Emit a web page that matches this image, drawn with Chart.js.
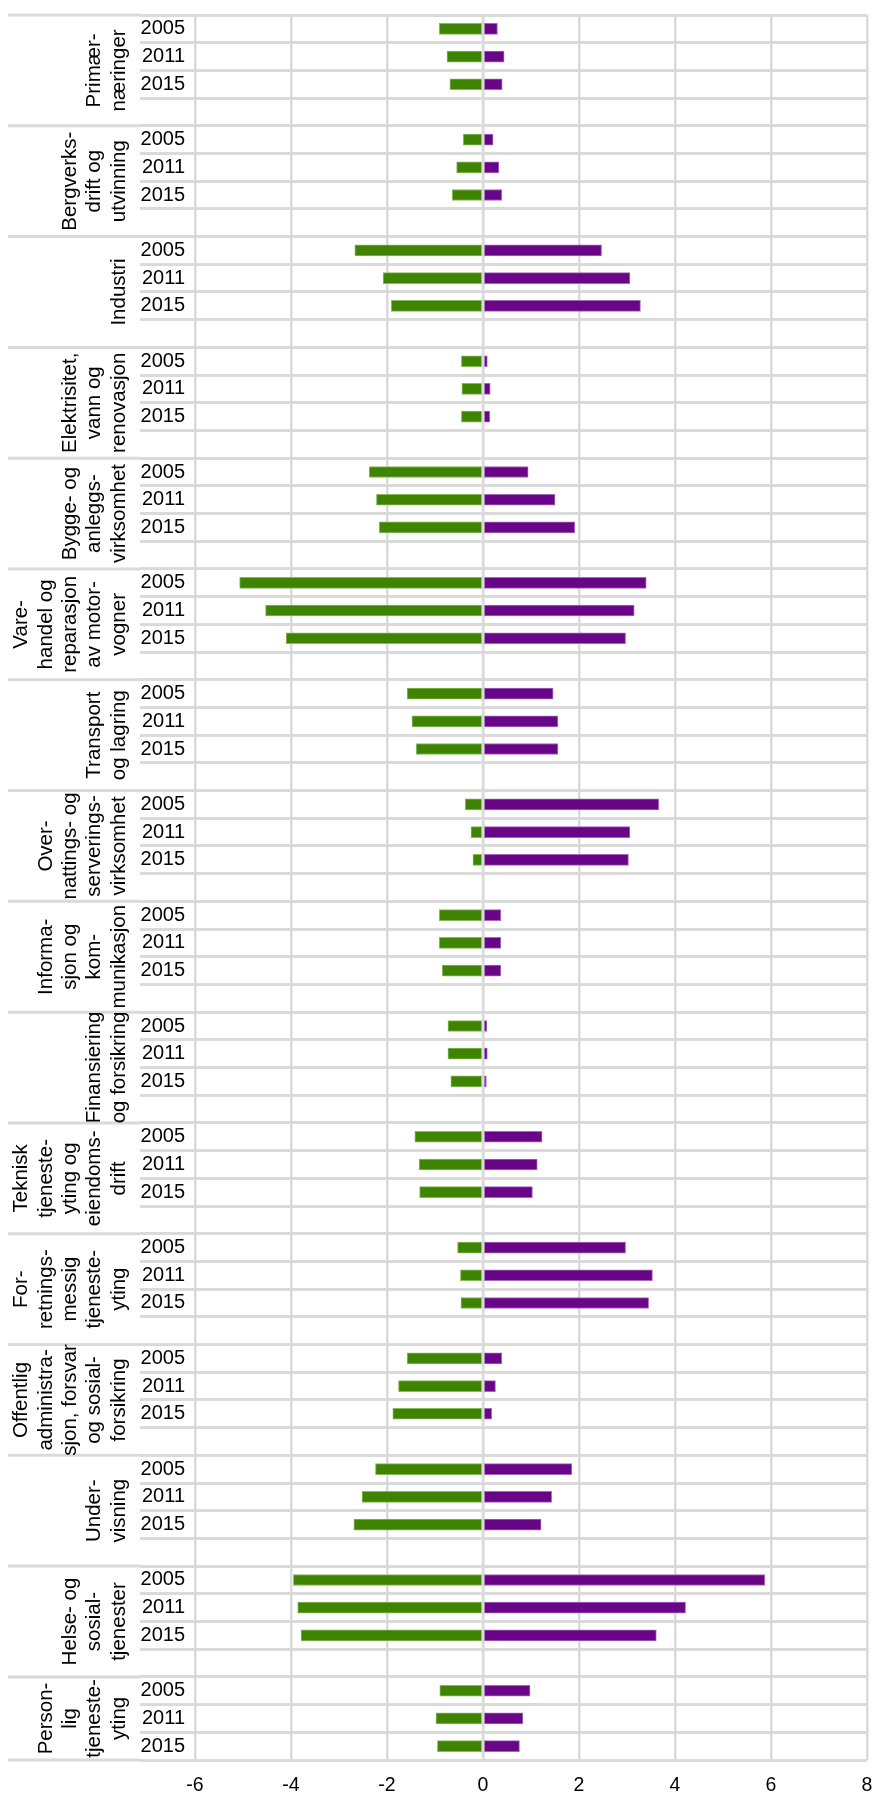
<!DOCTYPE html>
<html>
<head>
<meta charset="utf-8">
<script src="https://cdn.jsdelivr.net/npm/chart.js@4"></script>
<style>
  body { margin: 0; background: #fff; }
  #wrap { width: 873px; height: 1796px; position: relative; }
</style>
</head>
<body>
<div id="wrap"><canvas id="grafico"></canvas></div>
<script>
const groupLabels = [
    ['Primær-', 'næringer'],
    ['Bergverks-', 'drift og', 'utvinning'],
    ['Industri'],
    ['Elektrisitet,', 'vann og', 'renovasjon'],
    ['Bygge- og', 'anleggs-', 'virksomhet'],
    ['Vare-', 'handel og', 'reparasjon', 'av motor-', 'vogner'],
    ['Transport', 'og lagring'],
    ['Over-', 'nattings- og', 'serverings-', 'virksomhet'],
    ['Informa-', 'sjon og', 'kom-', 'munikasjon'],
    ['Finansiering', 'og forsikring'],
    ['Teknisk', 'tjeneste-', 'yting og', 'eiendoms-', 'drift'],
    ['For-', 'retnings-', 'messig', 'tjeneste-', 'yting'],
    ['Offentlig', 'administra-', 'sjon, forsvar', 'og sosial-', 'forsikring'],
    ['Under-', 'visning'],
    ['Helse- og', 'sosial-', 'tjenester'],
    ['Person-', 'lig', 'tjeneste-', 'yting']
];

const years = ['2005', '2011', '2015'];

// green series (negative)
const negValues = [
    [-0.91, -0.75, -0.69],
    [-0.41, -0.55, -0.64],
    [-2.67, -2.08, -1.91],
    [-0.45, -0.44, -0.45],
    [-2.37, -2.22, -2.16],
    [-5.07, -4.53, -4.10],
    [-1.58, -1.48, -1.39],
    [-0.37, -0.25, -0.21],
    [-0.91, -0.91, -0.85],
    [-0.73, -0.73, -0.67],
    [-1.42, -1.33, -1.32],
    [-0.53, -0.47, -0.46],
    [-1.58, -1.76, -1.88],
    [-2.24, -2.52, -2.69],
    [-3.95, -3.86, -3.79],
    [-0.90, -0.98, -0.95]
];

// purple series (positive)
const posValues = [
    [0.30, 0.44, 0.40],
    [0.21, 0.33, 0.39],
    [2.47, 3.06, 3.28],
    [0.09, 0.15, 0.14],
    [0.94, 1.50, 1.91],
    [3.40, 3.15, 2.97],
    [1.46, 1.56, 1.56],
    [3.66, 3.06, 3.03],
    [0.37, 0.37, 0.37],
    [0.08, 0.09, 0.07],
    [1.23, 1.13, 1.03],
    [2.97, 3.53, 3.45],
    [0.39, 0.26, 0.18],
    [1.85, 1.43, 1.21],
    [5.87, 4.22, 3.61],
    [0.98, 0.83, 0.76]
];

const xTicks = [-6, -4, -2, 0, 2, 4, 6, 8];

// build rows: 3 years + one blank row between groups
let rowLabels = [];
let negData = [];
let posData = [];
let groupRows = [];
groupLabels.forEach((g, i) => {
    const start = rowLabels.length;
    years.forEach((yr, j) => {
        rowLabels.push(yr);
        negData.push(negValues[i][j]);
        posData.push(posValues[i][j]);
    });
    groupRows.push([start, rowLabels.length - 1]);
    if (i < groupLabels.length - 1) {
        rowLabels.push('');
        negData.push(null);
        posData.push(null);
    }
});

const gridColor = '#dadada';

const groupLabelsPlugin = {
    id: 'groupLabels',
    afterDatasetsDraw(chart) {
        const ctx = chart.ctx;
        const area = chart.chartArea;
        const xs = chart.scales.x;
        const ys = chart.scales.y;
        const rowH = ys.getPixelForValue(1) - ys.getPixelForValue(0);

        ctx.save();
        // zero line on top of the bars
        const x0 = xs.getPixelForValue(0);
        ctx.strokeStyle = gridColor;
        ctx.lineWidth = 2.5;
        ctx.beginPath();
        ctx.moveTo(x0, area.top);
        ctx.lineTo(x0, area.bottom);
        ctx.stroke();

        // group separators reach into the label column
        ctx.lineWidth = 3;
        const bounds = groupRows.map(r => ys.getPixelForValue(r[0]) - rowH / 2);
        bounds.push(area.bottom);
        bounds.forEach(b => {
            ctx.beginPath();
            ctx.moveTo(8, b);
            ctx.lineTo(140, b);
            ctx.stroke();
        });

        // rotated group labels
        ctx.fillStyle = '#000';
        ctx.font = '20.5px "Liberation Sans", Arial, sans-serif';
        ctx.textAlign = 'center';
        ctx.textBaseline = 'middle';
        groupLabels.forEach((lines, i) => {
            const r = groupRows[i];
            const end = i < groupLabels.length - 1 ? r[1] + 1 : r[1];
            const cy = (ys.getPixelForValue(r[0]) + ys.getPixelForValue(end)) / 2;
            lines.forEach((line, k) => {
                const cx = 119 - (lines.length - 1 - k) * 24.3;
                ctx.save();
                ctx.translate(cx, cy);
                ctx.rotate(-Math.PI / 2);
                ctx.fillText(line, 0, 0);
                ctx.restore();
            });
        });
        ctx.restore();
    }
};

const ctx = document.getElementById('grafico').getContext('2d');
new Chart(ctx, {
    type: 'bar',
    data: {
        labels: rowLabels,
        datasets: [{
            data: negData,
            backgroundColor: '#3f8400',
            borderColor: '#86b95c',
            borderWidth: 1,
            borderSkipped: false,
            barThickness: 11
        }, {
            data: posData,
            backgroundColor: '#690587',
            borderColor: '#a468bb',
            borderWidth: 1,
            borderSkipped: false,
            barThickness: 11
        }]
    },
    options: {
        indexAxis: 'y',
        responsive: true,
        maintainAspectRatio: false,
        animation: false,
        layout: { padding: { top: 15, right: 6, left: 0, bottom: 0 } },
        plugins: {
            legend: { display: false },
            tooltip: { enabled: false }
        },
        scales: {
            x: {
                stacked: true,
                min: -6,
                max: 8,
                afterBuildTicks: scale => {
                    scale.ticks = xTicks.map(v => ({ value: v }));
                },
                grid: { color: gridColor, lineWidth: 2.5, drawTicks: false },
                border: { display: false },
                ticks: {
                    color: '#000',
                    padding: 14,
                    font: { family: '"Liberation Sans", Arial, sans-serif', size: 19.5 }
                },
                afterFit: scale => {
                    scale.height = 36;
                    scale.paddingLeft = 0;
                    scale.paddingRight = 0;
                }
            },
            y: {
                stacked: true,
                grid: { color: gridColor, lineWidth: 3, tickLength: 55, offset: true },
                border: { display: false },
                ticks: {
                    color: '#000',
                    padding: -45,
                    autoSkip: false,
                    font: { family: '"Liberation Sans", Arial, sans-serif', size: 20 }
                },
                afterFit: scale => { scale.width = 195; }
            }
        }
    },
    plugins: [groupLabelsPlugin]
});
</script>
</body>
</html>
